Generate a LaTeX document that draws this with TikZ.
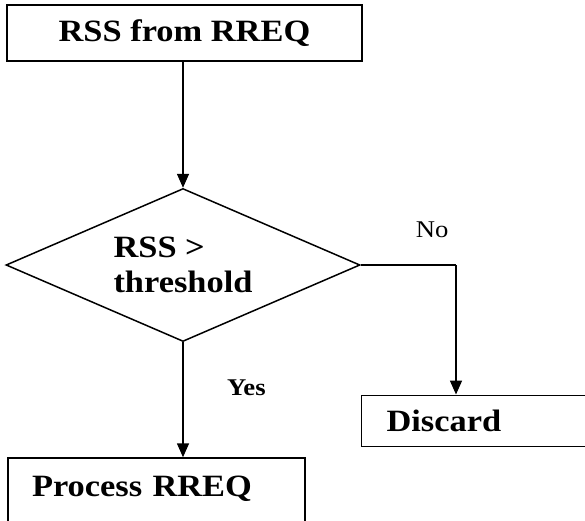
\documentclass[tikz,border=0pt]{standalone}
\usepackage{fontspec}
\setmainfont{Liberation Serif}[FakeStretch=1.11]
\usetikzlibrary{shapes.geometric, arrows.meta, positioning}
\tikzstyle{stage} = [rectangle, draw, line width=1.5pt, minimum width=355pt, minimum height=56pt, inner sep=0pt, text centered, font=\fontsize{31}{35}\selectfont\bfseries]
\tikzstyle{outcome} = [rectangle, draw, line width=1.5pt, inner ysep=0pt, align=left, font=\fontsize{31}{35}\selectfont\bfseries]
\tikzstyle{decision} = [diamond, draw, line width=1.5pt, aspect=2.3, minimum width=354pt, minimum height=153pt, inner sep=0pt, align=left, font=\fontsize{31}{35}\selectfont\bfseries]
\tikzstyle{flow} = [line width=1.6pt, -{Triangle[length=14pt, width=12pt]}]
\tikzstyle{answer} = [anchor=base, font=\fontsize{24}{28}\selectfont]

\begin{document}
\begin{tikzpicture}[x=1pt, y=-1pt]
  \clip (0,0) rectangle (585,520);
  \node (rss) [stage] at (184.5,33) {RSS from RREQ};
  \node (check) [decision, below = 126pt of rss, xshift=-1.5pt] {RSS >\\threshold};
  \node (proc) [outcome, below = 115pt of check, xshift=-26.5pt, text width=249pt, inner xsep=24pt, minimum height=80pt, text height=23pt, text depth=27pt] {Process RREQ};
  \node (disc) [outcome, below right = 129.5pt and 0pt of check.east, text width=190pt, inner xsep=25pt, minimum height=51pt] {Discard};
  \coordinate (turn) at (456,0 |- check.east);
  \draw [flow] (rss.south -| check.north) -- (check.north);
  \draw [flow] (check.south) -- node[answer, pos=0.46, anchor=base west, xshift=40pt, font=\fontsize{24}{28}\selectfont\bfseries]{Yes} (check.south |- proc.north);
  \draw [line width=1.5pt] (check.east) -- node[answer, pos=0.75, yshift=28pt]{No} (turn);
  \draw [flow] (turn) -- (turn |- disc.north);
\end{tikzpicture}
\end{document}
